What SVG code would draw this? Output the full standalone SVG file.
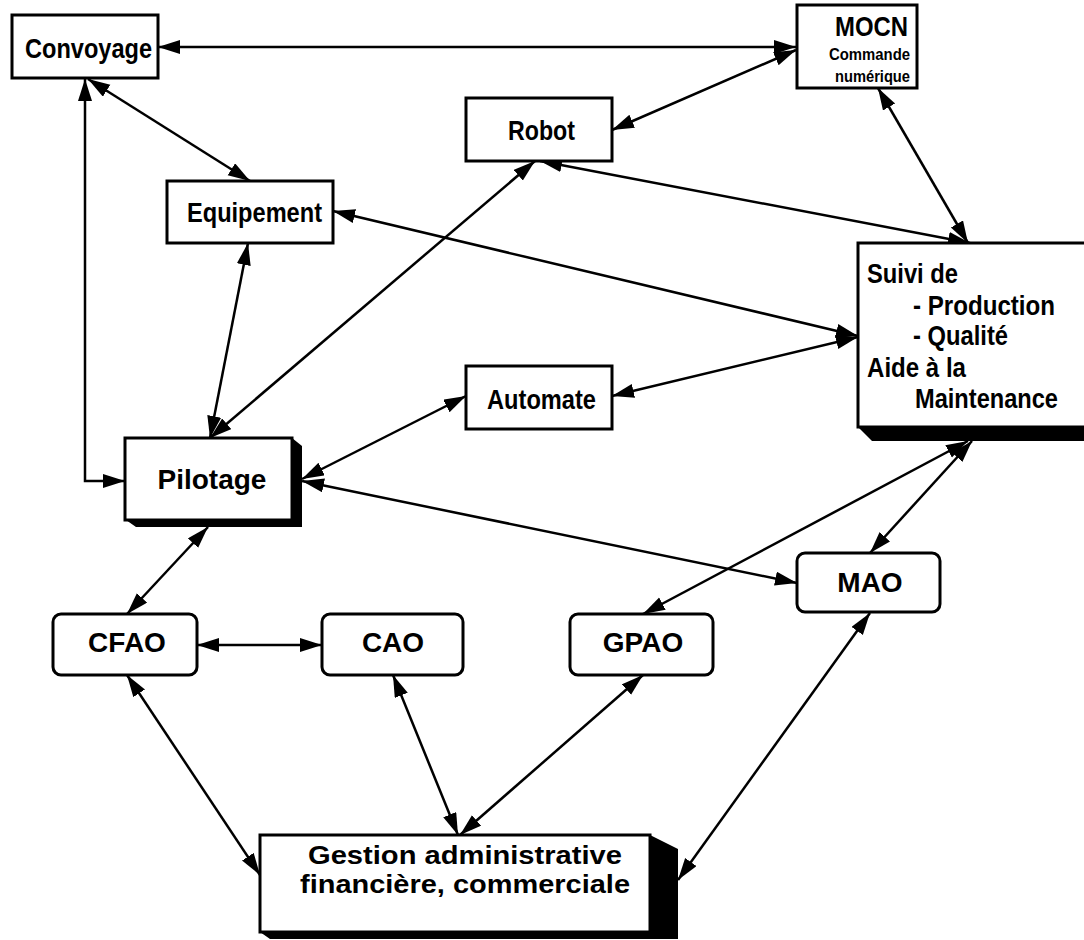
<svg xmlns="http://www.w3.org/2000/svg" width="1084" height="940" viewBox="0 0 1084 940">
<style>
.box{fill:#fff;stroke:#000;stroke-width:3}
.sh{fill:#000}
.t{font-family:"Liberation Sans",Arial,sans-serif;font-weight:bold;fill:#000}
.c{stroke:#000;stroke-width:2.5;fill:none;marker-start:url(#ah);marker-end:url(#ah)}
</style>
<defs>
<marker id="ah" markerUnits="userSpaceOnUse" markerWidth="24" markerHeight="16" refX="22" refY="7" orient="auto-start-reverse" viewBox="0 0 24 16">
<path d="M0,0 L22,7 L0,14 z" fill="#000"/>
</marker>
</defs>
<rect width="1084" height="940" fill="#fff"/>
<g id="connectors">
<line class="c" x1="158" y1="47" x2="796" y2="47"/>
<line class="c" x1="88" y1="79" x2="250" y2="181"/>
<polyline class="c" points="85,79 85,481 125,481"/>
<line class="c" x1="612" y1="130" x2="796" y2="50"/>
<line class="c" x1="540" y1="161" x2="970" y2="243"/>
<line class="c" x1="878" y1="88" x2="968" y2="243"/>
<line class="c" x1="333" y1="211" x2="858" y2="336"/>
<line class="c" x1="248" y1="243" x2="210" y2="438"/>
<line class="c" x1="535" y1="161" x2="210" y2="438"/>
<line class="c" x1="612" y1="396" x2="858" y2="337"/>
<line class="c" x1="466" y1="396" x2="302" y2="479"/>
<line class="c" x1="302" y1="481" x2="797" y2="583"/>
<line class="c" x1="968" y1="441" x2="643" y2="614"/>
<line class="c" x1="972" y1="441" x2="870" y2="553"/>
<line class="c" x1="208" y1="527" x2="127" y2="614"/>
<line class="c" x1="197" y1="645" x2="322" y2="645"/>
<line class="c" x1="127" y1="675" x2="260" y2="875"/>
<line class="c" x1="393" y1="675" x2="458" y2="835"/>
<line class="c" x1="643" y1="675" x2="460" y2="835"/>
<line class="c" x1="870" y1="613" x2="678" y2="880"/>
</g>
<g id="convoyage">
<rect class="box" x="12" y="15" width="146" height="63"/>
<text class="t" x="25" y="58" font-size="28" textLength="127" lengthAdjust="spacingAndGlyphs">Convoyage</text>
</g>
<g id="mocn">
<rect class="box" x="797" y="5" width="120" height="83"/>
<text class="t" x="835" y="36" font-size="28" textLength="73" lengthAdjust="spacingAndGlyphs">MOCN</text>
<text class="t" x="829" y="60" font-size="16" textLength="81" lengthAdjust="spacingAndGlyphs">Commande</text>
<text class="t" x="835" y="82" font-size="16" textLength="75" lengthAdjust="spacingAndGlyphs">numérique</text>
</g>
<g id="robot">
<rect class="box" x="466" y="98" width="146" height="63"/>
<text class="t" x="508" y="140" font-size="28" textLength="67" lengthAdjust="spacingAndGlyphs">Robot</text>
</g>
<g id="equipement">
<rect class="box" x="167" y="181" width="166" height="62"/>
<text class="t" x="187" y="222" font-size="28" textLength="135" lengthAdjust="spacingAndGlyphs">Equipement</text>
</g>
<g id="suivi">
<polygon class="sh" points="858,427 872,441 1084,441 1084,427"/>
<rect class="box" x="858" y="243" width="228" height="184"/>
<text class="t" x="867" y="283" font-size="28" textLength="91" lengthAdjust="spacingAndGlyphs">Suivi de</text>
<text class="t" x="913" y="315" font-size="28" textLength="142" lengthAdjust="spacingAndGlyphs">- Production</text>
<text class="t" x="913" y="345" font-size="28" textLength="95" lengthAdjust="spacingAndGlyphs">- Qualité</text>
<text class="t" x="867" y="377" font-size="28" textLength="99" lengthAdjust="spacingAndGlyphs">Aide à la</text>
<text class="t" x="915" y="408" font-size="28" textLength="143" lengthAdjust="spacingAndGlyphs">Maintenance</text>
</g>
<g id="automate">
<rect class="box" x="466" y="366" width="146" height="63"/>
<text class="t" x="487" y="409" font-size="28" textLength="109" lengthAdjust="spacingAndGlyphs">Automate</text>
</g>
<g id="pilotage">
<polygon class="sh" points="292,438 302,446 302,527 136,527 126,520 292,520"/>
<rect class="box" x="125" y="438" width="167" height="82"/>
<text class="t" x="212" y="489" font-size="28" text-anchor="middle">Pilotage</text>
</g>
<g id="mao">
<rect class="box" x="797" y="553" width="143" height="59" rx="8"/>
<text class="t" x="870" y="592" font-size="28" text-anchor="middle">MAO</text>
</g>
<g id="cfao">
<rect class="box" x="53" y="614" width="144" height="61" rx="8"/>
<text class="t" x="127" y="652" font-size="28" text-anchor="middle">CFAO</text>
</g>
<g id="cao">
<rect class="box" x="322" y="614" width="141" height="61" rx="8"/>
<text class="t" x="393" y="652" font-size="28" text-anchor="middle">CAO</text>
</g>
<g id="gpao">
<rect class="box" x="570" y="614" width="143" height="61" rx="8"/>
<text class="t" x="643" y="652" font-size="28" text-anchor="middle">GPAO</text>
</g>
<g id="gestion">
<polygon class="sh" points="650,835 678,849 678,939 270,939 260,932 650,932"/>
<rect class="box" x="260" y="835" width="390" height="97"/>
<text class="t" x="465" y="864" font-size="26" text-anchor="middle" textLength="314" lengthAdjust="spacingAndGlyphs">Gestion administrative</text>
<text class="t" x="465" y="893" font-size="26" text-anchor="middle" textLength="330" lengthAdjust="spacingAndGlyphs">financière, commerciale</text>
</g>
</svg>
